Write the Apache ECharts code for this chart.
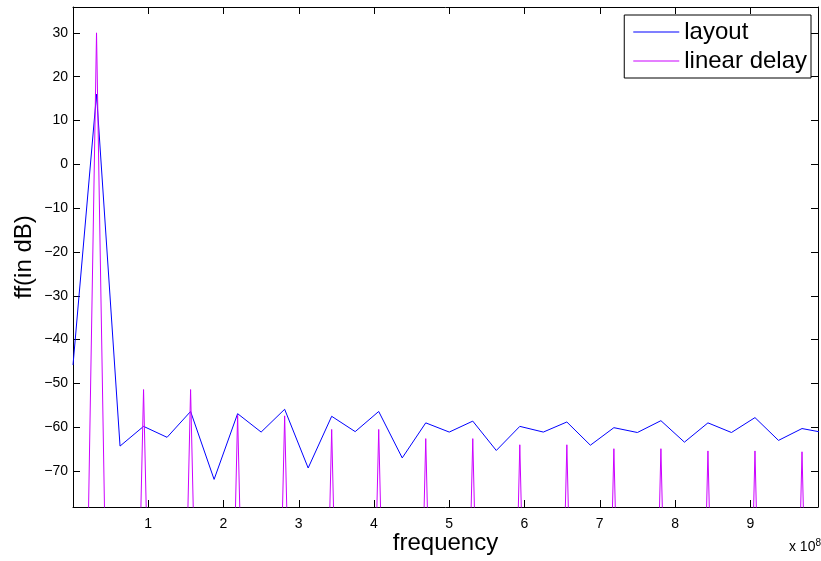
<!DOCTYPE html>
<html>
<head>
<meta charset="utf-8">
<script src="https://cdn.jsdelivr.net/npm/echarts@6/dist/echarts.min.js"></script>
<style>
  html, body { margin: 0; padding: 0; background: #fff; }
  #chart { width: 821px; height: 561px; }
</style>
</head>
<body>
<div id="chart"></div>
<script>
// frequency in units of 1e8 Hz
var freq = [0, 0.3125, 0.625, 0.9375, 1.25, 1.5625, 1.875, 2.1875, 2.5, 2.8125, 3.125,
  3.4375, 3.75, 4.0625, 4.375, 4.6875, 5, 5.3125, 5.625, 5.9375, 6.25, 6.5625,
  6.875, 7.1875, 7.5, 7.8125, 8.125, 8.4375, 8.75, 9.0625, 9.375, 9.6875, 10]

var layoutDb = [-45.8, 16.0, -64.3, -59.8, -62.3, -56.4, -71.9, -56.9, -61.1, -55.9, -69.3,
  -57.5, -61.0, -56.4, -67.0, -59.0, -61.1, -58.6, -65.3, -59.8, -61.1, -58.8,
  -64.1, -60.1, -61.2, -58.5, -63.4, -59.0, -61.2, -57.8, -63.0, -60.3, -61.3]

var delayDb = [-290, 30.0, -290, -51.4, -290, -51.4, -290, -57.2, -290, -57.4, -290,
  -60.5, -290, -60.5, -290, -62.6, -290, -62.6, -290, -64.0, -290, -64.0,
  -290, -64.9, -290, -64.9, -290, -65.4, -290, -65.4, -290, -65.6, -290]

var xTicks = [1, 2, 3, 4, 5, 6, 7, 8, 9]
var yTicks = [-70, -60, -50, -40, -30, -20, -10, 0, 10, 20, 30]

var font = 'Liberation Sans, Arial, Helvetica, sans-serif'

function pairs(ys) {
  return freq.map(function (f, i) { return [f, ys[i]] })
}
function minus(v) {
  return String(v).replace('-', '\u2212')
}

var chart = echarts.init(document.getElementById('chart'))

var baseX = {
  type: 'value',
  min: 0,
  max: 9.9,
  splitLine: { show: false },
  axisLine: { show: true, onZero: false, lineStyle: { color: '#000', width: 1 } },
  axisTick: { show: true, inside: true, length: 7, customValues: xTicks, lineStyle: { color: '#000' } },
  minorTick: { show: false }
}
var baseY = {
  type: 'value',
  min: -78.2,
  max: 35.9,
  splitLine: { show: false },
  axisLine: { show: true, onZero: false, lineStyle: { color: '#000', width: 1 } },
  axisTick: { show: true, inside: true, length: 7, customValues: yTicks, lineStyle: { color: '#000' } }
}

chart.setOption({
  animation: false,
  textStyle: { fontFamily: font },
  grid: { left: 73, right: 3, top: 7, bottom: 54, containLabel: false, outerBoundsMode: 'none' },
  xAxis: [
    Object.assign({}, baseX, {
      position: 'bottom',
      name: 'frequency',
      nameLocation: 'middle',
      nameGap: 24,
      nameMoveOverlap: false,
      nameTextStyle: { fontSize: 24, color: '#000', fontFamily: font },
      axisLabel: {
        customValues: xTicks,
        margin: 10,
        fontSize: 14,
        color: '#000',
        fontFamily: font,
        formatter: function (v) { return String(v) }
      }
    }),
    Object.assign({}, baseX, { position: 'top', axisLabel: { show: false } })
  ],
  yAxis: [
    Object.assign({}, baseY, {
      position: 'left',
      name: 'ff(in dB)',
      nameLocation: 'middle',
      nameGap: 37,
      nameMoveOverlap: false,
      nameRotate: 90,
      nameTextStyle: { fontSize: 24, color: '#000', fontFamily: font },
      axisLabel: {
        customValues: yTicks,
        margin: 5,
        fontSize: 14,
        color: '#000',
        fontFamily: font,
        formatter: minus
      }
    }),
    Object.assign({}, baseY, { position: 'right', axisLabel: { show: false } })
  ],
  legend: {
    orient: 'vertical',
    right: 10,
    top: 15,
    padding: [5, 4, 5, 9],
    itemGap: 5,
    itemWidth: 46,
    itemHeight: 1,
    icon: 'rect',
    borderColor: '#000',
    borderWidth: 1,
    borderRadius: 0,
    backgroundColor: '#fff',
    textStyle: { fontSize: 24, lineHeight: 24, color: '#000', fontFamily: font, padding: [0, 0, 0, 0] },
    data: ['layout', 'linear delay']
  },
  graphic: [{
    type: 'text',
    right: 0,
    top: 538,
    style: {
      text: 'x 10{sup|8}',
      fontSize: 14,
      fontFamily: font,
      fill: '#000',
      rich: { sup: { fontSize: 10, verticalAlign: 'top', padding: [0, 0, 9, 0], fontFamily: font } }
    }
  }],
  series: [
    {
      name: 'layout',
      type: 'line',
      data: pairs(layoutDb),
      showSymbol: false,
      symbol: 'none',
      clip: true,
      lineStyle: { color: '#0000ff', width: 1 },
      itemStyle: { color: '#0000ff' }
    },
    {
      name: 'linear delay',
      type: 'line',
      data: pairs(delayDb),
      showSymbol: false,
      symbol: 'none',
      clip: true,
      lineStyle: { color: '#cc00ff', width: 1 },
      itemStyle: { color: '#cc00ff' }
    }
  ]
})
</script>
</body>
</html>
